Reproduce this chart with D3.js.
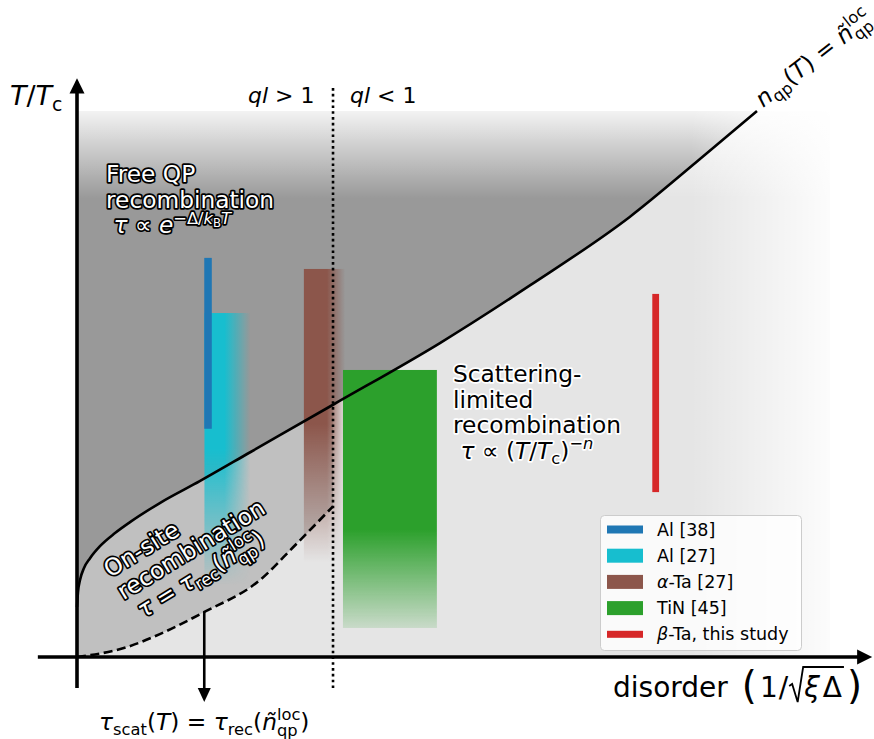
<!DOCTYPE html>
<html><head><meta charset="utf-8">
<script src="https://cdn.jsdelivr.net/npm/d3@7"></script>
<style>
html,body{margin:0;padding:0;background:#fff;}
svg{display:block;font-family:"DejaVu Sans",sans-serif;}
svg text{white-space:pre;}
</style></head><body>
<svg id="chart" width="874" height="739"></svg>
<script>
// ---------------- data ----------------
// boundary curve n_qp(T) = ñ_qp^loc  (disorder, T/Tc)
const curveDisorder = [0, 0.0013, 0.004, 0.0093, 0.0173, 0.0305, 0.0505, 0.0704, 0.110, 0.163, 0.230, 0.340, 0.482, 0.602, 0.734, 0.823, 0.903];
const curveT        = [0.0916, 0.119, 0.141, 0.163, 0.181, 0.203, 0.227, 0.247, 0.282, 0.322, 0.375, 0.462, 0.575, 0.681, 0.806, 0.907, 1.0];
// dashed curve tau_scat(T) = tau_rec(ñ)
const dashDisorder = [0, 0.066, 0.110, 0.167, 0.243, 0.287, 0.340];
const dashT        = [0, 0.018, 0.042, 0.081, 0.141, 0.201, 0.276];
// ql = 1 boundary
const qlBoundary = 0.340;
// material ranges
const materials   = ["Al [38]", "Al [27]", "α-Ta [27]", "TiN [45]", "β-Ta, this study"];
const barDisLo    = [0.169, 0.169, 0.301, 0.353, 0.764];
const barDisHi    = [0.179, 0.230, 0.356, 0.478, 0.773];
const barTLo      = [0.418, 0.132, 0.174, 0.053, 0.302];
const barTHi      = [0.731, 0.630, 0.711, 0.526, 0.665];
const arrowDisorder = 0.169;

// ---------------- styles ----------------
const colors = ["#1f77b4", "#17becf", "#8c564b", "#2ca02c", "#d62728"];
// fade: [horizontal solid-until, vertical solid-until, bottom opacity]
const fades = [null, [0.44, 0.50, 0], [0.56, 0.53, 0], [1.0, 0.62, 0.15], null];
const FS = 23.3;

const svg = d3.select("#chart");
const x = d3.scaleLinear().domain([0, 1]).range([77, 830]);
const y = d3.scaleLinear().domain([0, 1]).range([657, 111]);
const defs = svg.append("defs");

// ---------- background ----------
svg.append("rect").attr("x", x(0)).attr("y", y(1)).attr("width", x(1) - x(0)).attr("height", y(0) - y(1)).attr("fill", "#e5e5e5");

const curvePts = curveDisorder.map((d, i) => [d, curveT[i]]);
const dashPts = dashDisorder.map((d, i) => [d, dashT[i]]);
const line = d3.line().x(d => x(d[0])).y(d => y(d[1])).curve(d3.curveMonotoneX);

// dark region above curve
svg.append("path").attr("d", line(curvePts) + `L${x(0)},${y(1)}Z`).attr("fill", "#999999");

// mid region between curves, left of ql=1
function interp(pts, xv) {
  for (let i = 0; i < pts.length - 1; i++) {
    if (xv >= pts[i][0] && xv <= pts[i + 1][0]) {
      const t = (xv - pts[i][0]) / (pts[i + 1][0] - pts[i][0]);
      return pts[i][1] + t * (pts[i + 1][1] - pts[i][1]);
    }
  }
  return pts[pts.length - 1][1];
}
const upperLeft = curvePts.filter(p => p[0] < qlBoundary).concat([[qlBoundary, interp(curvePts, qlBoundary)]]);
const midPath = line(dashPts) + "L" + line(upperLeft.slice().reverse()).slice(1) + "Z";
svg.append("path").attr("d", midPath).attr("fill", "#c0c0c0");

// fades to white (top and right)
const gTop = defs.append("linearGradient").attr("id", "fadeTop").attr("x1", 0).attr("y1", 0).attr("x2", 0).attr("y2", 1);
gTop.append("stop").attr("offset", 0).attr("stop-color", "#fff").attr("stop-opacity", 0.88);
gTop.append("stop").attr("offset", 1).attr("stop-color", "#fff").attr("stop-opacity", 0);
svg.append("rect").attr("x", x(0)).attr("y", y(1)).attr("width", x(1) - x(0)).attr("height", y(0.84) - y(1)).attr("fill", "url(#fadeTop)");
const gRight = defs.append("linearGradient").attr("id", "fadeRight").attr("x1", 0).attr("y1", 0).attr("x2", 1).attr("y2", 0);
gRight.append("stop").attr("offset", 0).attr("stop-color", "#fff").attr("stop-opacity", 0);
gRight.append("stop").attr("offset", 0.85).attr("stop-color", "#fff").attr("stop-opacity", 1);
gRight.append("stop").attr("offset", 1).attr("stop-color", "#fff").attr("stop-opacity", 1);
svg.append("rect").attr("x", x(0.815)).attr("y", y(1) - 1).attr("width", 874 - x(0.815)).attr("height", y(0) - y(1) + 1).attr("fill", "url(#fadeRight)");

// ---------- material bars ----------
const drawOrder = [1, 0, 2, 3, 4];
drawOrder.forEach(i => {
  const r = svg.append("rect")
    .attr("x", x(barDisLo[i])).attr("y", y(barTHi[i]))
    .attr("width", x(barDisHi[i]) - x(barDisLo[i]))
    .attr("height", y(barTLo[i]) - y(barTHi[i]));
  const f = fades[i];
  if (!f) { r.attr("fill", colors[i]); return; }
  const hg = defs.append("linearGradient").attr("id", "hg" + i).attr("x1", 0).attr("x2", 1).attr("y1", 0).attr("y2", 0);
  hg.append("stop").attr("offset", 0).attr("stop-color", colors[i]).attr("stop-opacity", 1);
  hg.append("stop").attr("offset", f[0]).attr("stop-color", colors[i]).attr("stop-opacity", 1);
  hg.append("stop").attr("offset", 1).attr("stop-color", colors[i]).attr("stop-opacity", f[0] >= 1 ? 1 : 0);
  const vg = defs.append("linearGradient").attr("id", "vg" + i).attr("x1", 0).attr("x2", 0).attr("y1", 0).attr("y2", 1);
  vg.append("stop").attr("offset", 0).attr("stop-color", "#fff");
  vg.append("stop").attr("offset", f[1]).attr("stop-color", "#fff");
  const bo = Math.round(255 * f[2]);
  vg.append("stop").attr("offset", 1).attr("stop-color", `rgb(${bo},${bo},${bo})`);
  const m = defs.append("mask").attr("id", "m" + i).attr("maskContentUnits", "objectBoundingBox");
  m.append("rect").attr("x", 0).attr("y", 0).attr("width", 1).attr("height", 1).attr("fill", `url(#vg${i})`);
  r.attr("fill", `url(#hg${i})`).attr("mask", `url(#m${i})`);
});

// ---------- curves ----------
svg.append("path").attr("d", line(curvePts)).attr("fill", "none").attr("stroke", "#000").attr("stroke-width", 2.6);
svg.append("path").attr("d", line(dashPts)).attr("fill", "none").attr("stroke", "#000").attr("stroke-width", 2.6).attr("stroke-dasharray", "9,4.5");
svg.append("line").attr("x1", x(qlBoundary)).attr("x2", x(qlBoundary)).attr("y1", y(1.042)).attr("y2", y(-0.057))
  .attr("stroke", "#000").attr("stroke-width", 2.6).attr("stroke-dasharray", "2.6,3.2");

// ---------- axes ----------
svg.append("line").attr("x1", x(-0.052)).attr("x2", x(1.04)).attr("y1", y(0)).attr("y2", y(0)).attr("stroke", "#000").attr("stroke-width", 3.6);
svg.append("path").attr("d", `M${x(1.056)},${y(0)}L${x(1.036)},${y(0) - 7.5}L${x(1.036)},${y(0) + 7.5}Z`).attr("fill", "#000");
svg.append("line").attr("x1", x(0)).attr("x2", x(0)).attr("y1", y(-0.057)).attr("y2", y(1.035)).attr("stroke", "#000").attr("stroke-width", 3.6);
svg.append("path").attr("d", `M${x(0)},${y(1.06)}L${x(0) - 7.5},${y(1.032)}L${x(0) + 7.5},${y(1.032)}Z`).attr("fill", "#000");

// down arrow
const ay0 = y(interp(dashPts, arrowDisorder)), ay1 = 702;
svg.append("line").attr("x1", x(arrowDisorder)).attr("x2", x(arrowDisorder)).attr("y1", ay0).attr("y2", ay1 - 12).attr("stroke", "#000").attr("stroke-width", 2.6);
svg.append("path").attr("d", `M${x(arrowDisorder)},${ay1}L${x(arrowDisorder) - 6.5},${ay1 - 14}L${x(arrowDisorder) + 6.5},${ay1 - 14}Z`).attr("fill", "#000");

// ---------- math text helpers ----------
const N = t => ({ t });
const I = t => ({ t, it: true });
const SUB = (t, it) => ({ t, it, sc: 0.7, dy: 0.22 });
const SUP = (t, it) => ({ t, it, sc: 0.7, dy: -0.4 });
const GAP = px => ({ gap: px });
const NTILDE = [{ t: "ñ", it: true }, { stack: [{ t: "loc", sc: 0.7, dy: -0.45 }, { t: "qp", sc: 0.7, dy: 0.27 }] }];

function putPiece(g, cx, cy, it, base, paint) {
  const t = g.append("text").attr("x", cx).attr("y", cy + (it.dy || 0) * base)
    .attr("font-size", base * (it.sc || 1))
    .attr("font-style", it.it ? "italic" : "normal")
    .attr("xml:space", "preserve")
    .text(it.t);
  paint(t);
  return t.node().getComputedTextLength();
}
function layout(g, x0, y0, items, base, paint) {
  let cx = x0;
  items.forEach(it => {
    if (it.gap !== undefined) { cx += it.gap; return; }
    if (it.stack) {
      let w = 0;
      it.stack.forEach(s => { w = Math.max(w, putPiece(g, cx, y0, s, base, paint)); });
      cx += w;
    } else cx += putPiece(g, cx, y0, it, base, paint);
  });
  return cx - x0;
}
// draws lines of math text; outline drawn first
function mathText(g, x0, y0, lines, base, fill, outline, lh) {
  if (outline) {
    lines.forEach((l, k) => layout(g, x0, y0 + k * lh, l, base, t => t.attr("fill", outline).attr("stroke", outline).attr("stroke-width", 3.4).attr("stroke-linejoin", "round")));
  }
  let w = 0;
  lines.forEach((l, k) => { w = Math.max(w, layout(g, x0, y0 + k * lh, l, base, t => t.attr("fill", fill))); });
  return w;
}

// ---------- labels ----------
mathText(svg, 10, 105, [[I("T"), N("/"), I("T"), SUB("c")]], 27, "#000", null, 0);
mathText(svg, 248, 103, [[I("ql"), N(" > 1")]], 22, "#000", null, 0);
mathText(svg, 350, 103, [[I("ql"), N(" < 1")]], 22, "#000", null, 0);

mathText(svg, 106, 182, [
  [N("Free QP")],
  [N("recombination")],
  [N(" "), I("τ"), N(" ∝ "), I("e"), SUP("−Δ/"), SUP("k", true), { t: "B", sc: 0.5, dy: -0.26 }, SUP("T", true)]
], FS, "#fff", "#000", 25.5);

mathText(svg, 453, 382, [
  [N("Scattering-")],
  [N("limited")],
  [N("recombination")],
  [N(" "), I("τ"), N(" ∝ ("), I("T"), N("/"), I("T"), SUB("c"), N(")"), SUP("−"), SUP("n", true)]
], FS, "#000", "#fff", 25.5);

const gOn = svg.append("g").attr("transform", "translate(110,578) rotate(-31.5)");
mathText(gOn, 0, 0, [
  [N("On-site")],
  [N("recombination")],
  [N(" "), I("τ"), N(" = "), I("τ"), SUB("rec"), N("(")].concat(NTILDE).concat([N(")")])
], FS, "#fff", "#000", 26);

const gCurve = svg.append("g").attr("transform", "translate(763,108) rotate(-38)");
mathText(gCurve, 0, 0, [[I("n"), SUB("qp"), N("("), I("T"), N(") = ")].concat(NTILDE)], FS, "#000", null, 0);

// bottom annotation (centered on arrow)
const gBot = svg.append("g");
const wb = mathText(gBot, 0, 730, [[I("τ"), SUB("scat"), N("("), I("T"), N(") = "), I("τ"), SUB("rec"), N("(")].concat(NTILDE).concat([N(")")])], FS, "#000", null, 0);
gBot.attr("transform", `translate(${x(arrowDisorder) - wb / 2},0)`);

// x label
(function () {
  const g = svg.append("g");
  const base = 28, by = 697;
  const paint = t => t.attr("fill", "#000");
  let cx = 613;
  cx += layout(g, cx, by, [N("disorder"), GAP(14)], base, paint);
  cx += layout(g, cx, by + 2, [{ t: "(", sc: 1.38 }], base, paint) + 3;
  cx += layout(g, cx, by, [N("1"), GAP(1), N("/")], base, paint) + 1;
  const rx = cx;
  cx += 15;
  cx += layout(g, cx, by, [I("ξ"), GAP(3), N("Δ")], base, paint);
  const ex = cx + 2;
  g.append("path").attr("d", `M${rx},${by - 11}L${rx + 3},${by - 13}L${rx + 8.5},${by + 5}L${rx + 14},${by - 30}L${ex},${by - 30}`)
    .attr("fill", "none").attr("stroke", "#000").attr("stroke-width", 1.8).attr("stroke-linejoin", "miter");
  cx = ex + 3;
  layout(g, cx, by + 2, [{ t: ")", sc: 1.38 }], base, paint);
})();

// ---------- legend ----------
const lg = svg.append("g");
lg.append("rect").attr("x", 600.5).attr("y", 515.5).attr("width", 201).attr("height", 135).attr("rx", 4)
  .attr("fill", "#fff").attr("fill-opacity", 0.8).attr("stroke", "#cccccc").attr("stroke-width", 1);
const legendTexts = [
  [N("Al [38]")],
  [N("Al [27]")],
  [I("α"), N("-Ta [27]")],
  [N("TiN [45]")],
  [I("β"), N("-Ta, this study")]
];
const patchH = [8, 14, 14, 14, 7];
materials.forEach((name, i) => {
  const cy = 529.5 + i * 26.2;
  lg.append("rect").attr("x", 607).attr("y", cy - patchH[i] / 2).attr("width", 36).attr("height", patchH[i]).attr("fill", colors[i]);
  layout(lg, 657, cy + 6, legendTexts[i], 17.5, t => t.attr("fill", "#000"));
});
</script>
</body></html>
